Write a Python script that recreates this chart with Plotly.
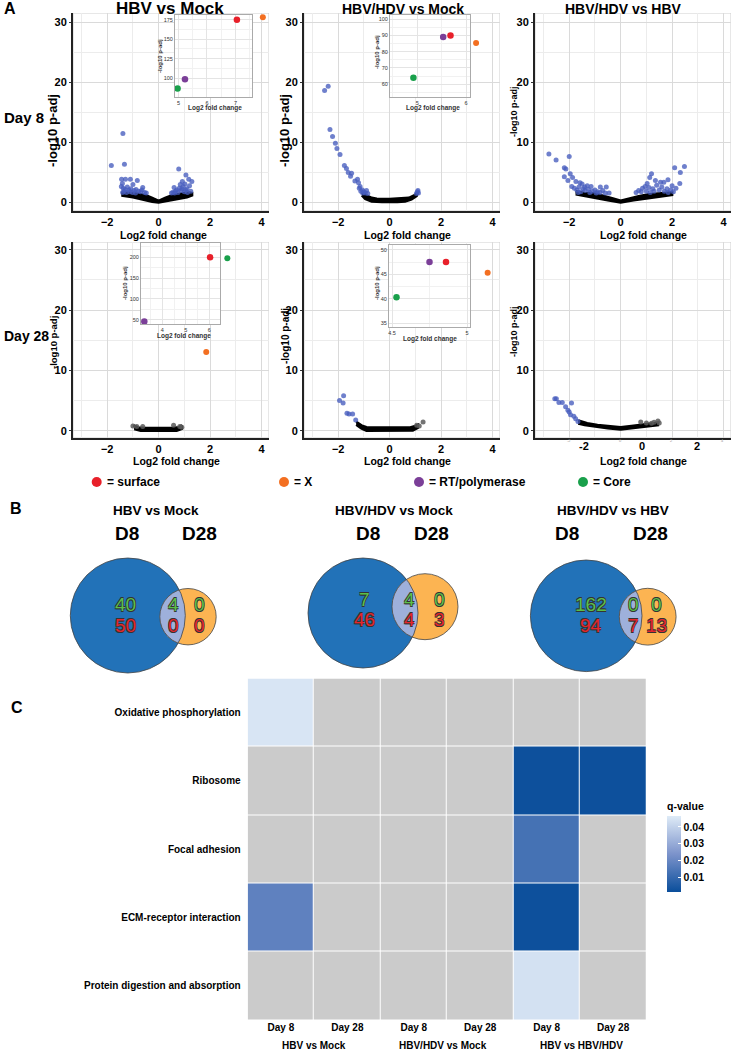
import numpy as np
import plotly.graph_objects as go

W, H = 732, 1050


def px(x):
    return x / W


def py(y):
    return 1 - y / H


# ---------------- Panel A: volcano plots ----------------
col_titles = ["HBV vs Mock", "HBV/HDV vs Mock", "HBV/HDV vs HBV"]
row_titles = ["Day 8", "Day 28"]
gene_names = ["surface", "X", "RT/polymerase", "Core"]
gene_colors = {"surface": "#e8202a", "X": "#f36f21", "RT/polymerase": "#7b3f98", "Core": "#19a04b"}

# Day 8, HBV vs Mock
d8_mock_blue_x = [-1.84, -1.39, -1.33, -1.44, -1.29, -1.1, -0.83, -1.41, -1.0, -0.62, -1.45, -1.38, -1.3,
                  -1.22, -1.15, -1.08, -0.95, -0.88, -0.78, -0.7, -0.55, -1.35, -1.25, -1.12, -1.02, -0.9,
                  -0.65, -1.4, -0.48,
                  0.78, 1.06, 1.17, 1.29, 0.92, 0.84, 0.6, 0.7, 0.95, 1.02, 1.1, 1.2, 0.88, 0.8, 0.65, 0.55,
                  1.0, 1.12, 0.75, 1.05, 0.9, 1.25, 0.5, 0.62]
d8_mock_blue_y = [6.1, 11.4, 6.3, 3.8, 3.8, 3.8, 3.6, 3.1, 2.9, 2.4, 2.6, 2.3, 2.1,
                  2.5, 2.0, 2.2, 1.9, 2.1, 1.8, 1.7, 1.6, 1.8, 1.6, 1.7, 1.6, 1.5,
                  2.0, 1.6, 1.5,
                  5.5, 4.5, 3.8, 3.4, 3.4, 2.9, 2.4, 2.0, 2.6, 3.0, 2.2, 2.7, 1.9, 2.3, 1.8, 1.6,
                  1.7, 1.6, 1.6, 2.0, 2.2, 1.8, 1.5, 1.5]
d8_mock_core_x = [-1.45, -1.2, -1.0, -0.75, -0.5, -0.25, 0.0, 0.25, 0.5, 0.75, 1.0, 1.2, 1.3,
                  1.3, 1.1, 0.8, 0.5, 0.25, 0.0, -0.25, -0.5, -1.0, -1.45]
d8_mock_core_y = [1.6, 1.6, 1.5, 1.35, 1.15, 0.7, 0.2, 0.7, 1.1, 1.35, 1.5, 1.6, 1.5,
                  1.1, 0.8, 0.55, 0.3, 0.05, -0.1, 0.05, 0.3, 0.8, 1.1]
d8_mock_gray_x, d8_mock_gray_y = [], []
d8_mock_gene = ["X"]
d8_mock_gene_x = [4.05]
d8_mock_gene_y = [30.8]
d8_mock_inset_gene = ["surface", "RT/polymerase", "Core"]
d8_mock_inset_x = [7.05, 5.23, 4.97]
d8_mock_inset_y = [175, 98.7, 87]

# Day 8, HBV/HDV vs Mock
d8_hdv_blue_x = [-2.53, -2.39, -2.32, -2.22, -2.11, -2.05, -1.93, -1.76, -1.68, -1.61, -1.48, -1.52, -1.35,
                 -1.25, -1.21, -1.18, -1.06, -1.12, -1.0, -0.95, -0.9, -1.15, -1.05, -0.85,
                 1.04, 1.08, 1.1, 1.12]
d8_hdv_blue_y = [18.6, 19.3, 12.1, 10.9, 9.8, 8.9, 7.9, 6.1, 5.6, 4.9, 4.8, 4.3, 3.5,
                 3.8, 3.2, 2.3, 2.0, 1.8, 1.7, 1.5, 1.9, 2.6, 1.5, 1.4,
                 1.4, 1.7, 1.9, 1.5]
d8_hdv_core_x = [-1.08, -0.9, -0.7, -0.5, 0.0, 0.5, 0.75, 0.95, 1.08,
                 1.05, 0.85, 0.6, 0.3, -0.3, -0.7, -0.95, -1.08]
d8_hdv_core_y = [1.6, 1.1, 0.7, 0.55, 0.5, 0.55, 0.7, 1.1, 1.5,
                 1.0, 0.45, 0.1, 0.0, 0.0, 0.1, 0.5, 1.1]
d8_hdv_gray_x, d8_hdv_gray_y = [], []
d8_hdv_gene = ["X"]
d8_hdv_gene_x = [3.36]
d8_hdv_gene_y = [26.5]
d8_hdv_inset_gene = ["Core", "RT/polymerase", "surface"]
d8_hdv_inset_x = [4.92, 5.53, 5.68]
d8_hdv_inset_y = [64, 89, 90]

# Day 8, HBV/HDV vs HBV
d8_hbv_blue_x = [-2.79, -2.51, -2.0, -2.19, -2.13, -1.96, -2.19, -2.05, -1.87, -1.74, -1.58, -1.5, -1.3,
                 -1.15, -0.79, -0.56, -1.9, -1.8, -1.7, -1.62, -1.45, -1.38, -1.25, -1.1, -1.0, -0.9,
                 -0.8, -0.7, -0.6, -1.55, -1.2, -0.95, -1.65, -0.45, -1.4,
                 2.1, 2.32, 2.48, 1.84, 1.2, 1.13, 1.03, 1.35, 1.55, 1.68, 2.0, 0.95, 0.85, 0.7, 1.1,
                 1.25, 1.4, 1.6, 1.8, 1.95, 2.15, 1.5, 0.8, 1.0, 1.3, 1.7, 2.05, 0.6, 1.15, 1.85, 2.3]
d8_hbv_blue_y = [8.0, 7.0, 7.6, 5.7, 5.5, 4.7, 4.2, 3.6, 4.1, 3.4, 3.2, 3.0, 2.7,
                 2.6, 2.5, 2.5, 2.6, 2.3, 2.0, 2.5, 2.2, 1.9, 2.1, 1.8, 2.0, 1.7,
                 1.6, 1.9, 1.5, 1.7, 1.6, 1.5, 1.6, 1.5, 2.5,
                 5.7, 4.9, 5.9, 3.7, 4.7, 4.1, 3.1, 3.6, 3.3, 3.3, 2.7, 2.6, 2.3, 1.9, 2.4,
                 2.2, 2.8, 2.5, 2.2, 2.0, 2.3, 2.0, 1.7, 1.8, 1.8, 1.8, 1.7, 1.6, 1.6, 1.6, 3.1]
d8_hbv_core_x = [-1.75, -1.4, -1.0, -0.6, -0.3, 0.0, 0.3, 0.7, 1.1, 1.5, 2.0,
                 2.0, 1.5, 1.0, 0.5, 0.0, -0.5, -1.0, -1.4, -1.75]
d8_hbv_core_y = [1.8, 1.5, 1.4, 1.0, 0.6, 0.2, 0.55, 0.95, 1.3, 1.45, 1.6,
                 1.2, 0.95, 0.6, 0.3, -0.1, 0.3, 0.65, 0.95, 1.3]
d8_hbv_gray_x, d8_hbv_gray_y = [], []
d8_hbv_gene, d8_hbv_gene_x, d8_hbv_gene_y = [], [], []

# Day 28, HBV vs Mock
d28_mock_blue_x, d28_mock_blue_y = [], []
d28_mock_core_x = [-0.98, -0.8, -0.5, 0.0, 0.5, 0.8, 0.9, 0.9, 0.7, -0.7, -0.95]
d28_mock_core_y = [0.9, 0.55, 0.45, 0.45, 0.45, 0.6, 0.9, 0.3, 0.0, 0.0, 0.3]
d28_mock_gray_x = [-1.0, -0.85, -0.62, 0.58, 0.82, 0.9]
d28_mock_gray_y = [0.8, 0.7, 0.7, 0.9, 0.7, 0.6]
d28_mock_gene = ["X", "Core"]
d28_mock_gene_x = [1.85, 2.67]
d28_mock_gene_y = [13.05, 28.6]
d28_mock_inset_gene = ["RT/polymerase", "surface"]
d28_mock_inset_x = [3.24, 6.03]
d28_mock_inset_y = [46, 200]

# Day 28, HBV/HDV vs Mock
d28_hdv_blue_x = [-1.95, -1.79, -1.81, -1.66, -1.58, -1.44, -1.32]
d28_hdv_blue_y = [5.0, 5.8, 4.6, 2.9, 2.8, 2.8, 1.8]
d28_hdv_core_x = [-1.3, -1.1, -0.9, 0.0, 0.8, 1.0, 1.1, 1.1, 0.9, -0.9, -1.1, -1.3]
d28_hdv_core_y = [1.5, 0.9, 0.6, 0.55, 0.55, 0.8, 1.0, 0.5, 0.05, 0.0, 0.4, 1.0]
d28_hdv_gray_x = [1.3, 1.15, 1.05]
d28_hdv_gray_y = [1.45, 0.8, 0.9]
d28_hdv_gene = ["X"]
d28_hdv_gene_x = [3.81]
d28_hdv_gene_y = [26.2]
d28_hdv_inset_gene = ["Core", "RT/polymerase", "surface"]
d28_hdv_inset_x = [4.53, 4.75, 4.86]
d28_hdv_inset_y = [40.3, 47.5, 47.5]

# Day 28, HBV/HDV vs HBV
d28_hbv_blue_x = [-2.56, -2.5, -2.4, -2.27, -2.14, -2.05, -1.91, -1.95, -1.82, -1.75, -1.66, -2.0]
d28_hbv_blue_y = [5.3, 5.3, 4.7, 4.7, 4.0, 3.4, 4.6, 2.65, 2.4, 2.0, 1.55, 3.1]
d28_hbv_core_x = [-1.65, -1.3, -0.9, -0.4, 0.0, 0.5, 1.0, 1.45,
                  1.45, 1.0, 0.5, 0.0, -0.5, -1.0, -1.4, -1.65]
d28_hbv_core_y = [1.7, 1.25, 0.95, 0.75, 0.6, 0.85, 1.15, 1.35,
                  0.95, 0.75, 0.45, 0.2, 0.4, 0.65, 0.95, 1.2]
d28_hbv_gray_x = [0.78, 1.0, 1.2, 1.3, 1.45, 1.5]
d28_hbv_gray_y = [1.45, 1.3, 1.25, 1.4, 1.6, 1.3]
d28_hbv_gene, d28_hbv_gene_x, d28_hbv_gene_y = [], [], []

# ---------------- Panel B: Venn counts (green = up, red = down) ----------------
venn_titles = ["HBV vs Mock", "HBV/HDV vs Mock", "HBV/HDV vs HBV"]
venn_sets = ["D8", "D28"]
venn_up = [[40, 4, 0], [7, 4, 0], [162, 0, 0]]        # D8 only, both, D28 only
venn_down = [[50, 0, 0], [46, 4, 3], [94, 7, 13]]

# ---------------- Panel C: KEGG heatmap ----------------
pathways = ["Oxidative phosphorylation", "Ribosome", "Focal adhesion",
            "ECM-receptor interaction", "Protein digestion and absorption"]
conditions = ["Day 8", "Day 28", "Day 8", "Day 28", "Day 8", "Day 28"]
comparisons = ["HBV vs Mock", "HBV/HDV vs Mock", "HBV vs HBV/HDV"]
qvalues = [
    [0.045, None, None, None, None, None],
    [None, None, None, None, 0.0018, 0.0018],
    [None, None, None, None, 0.013, None],
    [0.018, None, None, None, 0.0018, None],
    [None, None, None, None, 0.044, None],
]

# ---------------- figure ----------------
FONT = "Liberation Sans, Arial, sans-serif"
NARROW = "Liberation Sans Narrow, Arial Narrow, Liberation Sans, sans-serif"

fig = go.Figure()
layout = {}
annotations = []
shapes = []


def note(text, x, y, size, xanchor="center", angle=0, color="black", bold=True, family=FONT, **kw):
    font = dict(family=family, size=size, color=color)
    if bold:
        font["weight"] = "bold"
    font.update(kw)
    annotations.append(dict(text=text, x=px(x), y=py(y), xref="paper", yref="paper", xanchor=xanchor,
                            yanchor="middle", textangle=angle, showarrow=False, font=font))


col_px = [(73, 269), (304, 500), (535, 731)]
row_px = [(13, 211), (242, 438)]
row_ranges = [[-1.5, 31.5], [-1.2, 31.3]]
xrange_main = [-3.33, 4.29]

panels = [
    (d8_mock_blue_x, d8_mock_blue_y, d8_mock_core_x, d8_mock_core_y, d8_mock_gray_x, d8_mock_gray_y,
     d8_mock_gene, d8_mock_gene_x, d8_mock_gene_y),
    (d8_hdv_blue_x, d8_hdv_blue_y, d8_hdv_core_x, d8_hdv_core_y, d8_hdv_gray_x, d8_hdv_gray_y,
     d8_hdv_gene, d8_hdv_gene_x, d8_hdv_gene_y),
    (d8_hbv_blue_x, d8_hbv_blue_y, d8_hbv_core_x, d8_hbv_core_y, d8_hbv_gray_x, d8_hbv_gray_y,
     d8_hbv_gene, d8_hbv_gene_x, d8_hbv_gene_y),
    (d28_mock_blue_x, d28_mock_blue_y, d28_mock_core_x, d28_mock_core_y, d28_mock_gray_x, d28_mock_gray_y,
     d28_mock_gene, d28_mock_gene_x, d28_mock_gene_y),
    (d28_hdv_blue_x, d28_hdv_blue_y, d28_hdv_core_x, d28_hdv_core_y, d28_hdv_gray_x, d28_hdv_gray_y,
     d28_hdv_gene, d28_hdv_gene_x, d28_hdv_gene_y),
    (d28_hbv_blue_x, d28_hbv_blue_y, d28_hbv_core_x, d28_hbv_core_y, d28_hbv_gray_x, d28_hbv_gray_y,
     d28_hbv_gene, d28_hbv_gene_x, d28_hbv_gene_y),
]

# y-title (x px, y px, size) and x-title (x px, y px) per panel
ytitle_pos = [(53, 131, 13), (285, 131, 13), (514, 112, 9), (53, 343, 9.5), (285, 336, 10), (514, 332, 9)]
xtitle_pos = [(163, 235), (407, 235), (643, 235), (176, 461), (407, 461), (643, 461)]

for i, (bx, by, cx, cy, gx, gy, gn, gnx, gny) in enumerate(panels):
    n = i + 1
    r, c = divmod(i, 3)
    xa, ya = "x%d" % n, "y%d" % n
    xk = "xaxis" if n == 1 else "xaxis%d" % n
    yk = "yaxis" if n == 1 else "yaxis%d" % n
    x0, x1 = col_px[c]
    y0, y1 = row_px[r]
    layout[xk] = dict(domain=[px(x0), px(x1)], range=xrange_main, anchor=ya, tick0=0, dtick=2,
                      showgrid=True, gridcolor="#dadada", gridwidth=1,
                      minor=dict(dtick=1, showgrid=True, gridcolor="#ececec"),
                      showline=True, linecolor="#222", linewidth=2, zeroline=False,
                      ticks="",
                      tickfont=dict(family=FONT, size=11, color="black", weight="bold"),
                      showticklabels=(n != 6))
    layout[yk] = dict(domain=[py(y1), py(y0)], range=row_ranges[r], anchor=xa, tick0=0, dtick=10,
                      showgrid=True, gridcolor="#dadada", gridwidth=1,
                      minor=dict(dtick=5, showgrid=True, gridcolor="#ececec"),
                      showline=True, linecolor="#222", linewidth=2, zeroline=False,
                      ticks="outside", ticklen=2, tickcolor="#333",
                      tickfont=dict(family=FONT, size=11, color="black", weight="bold"))
    # light panel border
    shapes.append(dict(type="rect", xref=xa, yref=ya, x0=xrange_main[0], x1=xrange_main[1],
                       y0=row_ranges[r][0], y1=row_ranges[r][1], line=dict(color="#cfcfcf", width=1),
                       layer="below"))
    fig.add_trace(go.Scatter(x=cx, y=cy, mode="lines", fill="toself", fillcolor="black",
                             line=dict(color="black", width=2.5), xaxis=xa, yaxis=ya, hoverinfo="skip"))
    if gx:
        fig.add_trace(go.Scatter(x=gx, y=gy, mode="markers", xaxis=xa, yaxis=ya,
                                 marker=dict(size=5, color="rgba(90,90,90,0.85)")))
    if bx:
        fig.add_trace(go.Scatter(x=bx, y=by, mode="markers", xaxis=xa, yaxis=ya,
                                 marker=dict(size=5, color="rgba(70,92,190,0.78)")))
    if gn:
        fig.add_trace(go.Scatter(x=gnx, y=gny, mode="markers", xaxis=xa, yaxis=ya, cliponaxis=False,
                                 marker=dict(size=6, color=[gene_colors[g] for g in gn])))
    tx, ty, ts = ytitle_pos[i]
    note("-log10 p-adj", tx, ty, ts, angle=-90)
    tx, ty = xtitle_pos[i]
    note("Log2 fold change", tx, ty, 10.5)

# shifted tick labels of the last panel (as in the source image)
for lab, xp in zip(["-2", "0", "2"], [584, 642, 697]):
    note(lab, xp, 446, 11)
for lab, xp in zip(["-2", "0", "2", "4"], [569, 620, 671, 722]):
    note(lab, xp, 441, 4, color="#999", bold=False)

# insets
insets = [
    (7, (175, 252), (15, 97), [4.88, 7.58], [76, 181], 1, 25,
     d8_mock_inset_gene, d8_mock_inset_x, d8_mock_inset_y, (215, 108.5), (160, 56)),
    (8, (390, 470), (15, 97), [4.44, 6.08], [52.2, 102.5], 1, 10,
     d8_hdv_inset_gene, d8_hdv_inset_x, d8_hdv_inset_y, (433, 108.5), (377, 52)),
    (9, (141, 220), (243, 324), [3.1, 6.45], [40, 234], 1, 50,
     d28_mock_inset_gene, d28_mock_inset_x, d28_mock_inset_y, (184, 335.5), (125, 283)),
    (10, (389, 470), (245, 327), [4.48, 5.02], [34.2, 51.0], 0.5, 5,
     d28_hdv_inset_gene, d28_hdv_inset_x, d28_hdv_inset_y, (430, 338.5), (377, 283)),
]
for n, (x0, x1), (y0, y1), xr, yr, dx, dy, gn, gx, gy, xt, yt in insets:
    xa, ya = "x%d" % n, "y%d" % n
    layout["xaxis%d" % n] = dict(domain=[px(x0), px(x1)], range=xr, anchor=ya, tick0=0, dtick=dx,
                                 showgrid=True, gridcolor="#e4e4e4",
                                 minor=dict(dtick=dx / 2, showgrid=True, gridcolor="#f1f1f1"),
                                 showline=True, mirror=True, linecolor="#aaa", linewidth=1, zeroline=False,
                                 ticks="", tickfont=dict(family=FONT, size=5.5, color="#333"))
    layout["yaxis%d" % n] = dict(domain=[py(y1), py(y0)], range=yr, anchor=xa, tick0=0, dtick=dy,
                                 showgrid=True, gridcolor="#e4e4e4",
                                 minor=dict(dtick=dy / 2, showgrid=True, gridcolor="#f1f1f1"),
                                 showline=True, mirror=True, linecolor="#aaa", linewidth=1, zeroline=False,
                                 ticks="", tickfont=dict(family=FONT, size=5.5, color="#333"))
    shapes.append(dict(type="rect", xref=xa, yref=ya, x0=xr[0], x1=xr[1], y0=yr[0], y1=yr[1],
                       fillcolor="white", line=dict(width=0), layer="below"))
    fig.add_trace(go.Scatter(x=gx, y=gy, mode="markers", xaxis=xa, yaxis=ya, cliponaxis=False,
                             marker=dict(size=6.5, color=[gene_colors[g] for g in gn])))
    note("Log2 fold change", xt[0], xt[1], 6.5, color="#333")
    note("-log10 p-adj", yt[0], yt[1], 6, angle=-90, color="#333")

# column / row titles for panel A
for t, xp, fs in zip(col_titles, [170, 403, 623], [17, 14, 14]):
    note(t, xp, 9, fs)
for t, yp, fs in zip(row_titles, [117, 336], [15, 14]):
    note(t, 2, yp, fs, xanchor="left")

# gene legend
for g, xd in zip(gene_names, [96.7, 284, 419, 583]):
    shapes.append(dict(type="circle", xref="paper", yref="paper", x0=px(xd - 5), x1=px(xd + 5),
                       y0=py(487), y1=py(477), fillcolor=gene_colors[g], line=dict(width=0)))
    note("= " + g, xd + 8, 482, 12, xanchor="left")

# panel letters
for lab, xp, yp in [("A", 2, 9), ("B", 8, 508), ("C", 9, 707)]:
    note(lab, xp, yp, 16, xanchor="left")

# ---------------- Venn diagrams ----------------
venn_big = [(127.8, 615.5, 57.5), (363.0, 613.0, 55.0), (586.2, 615.8, 55.8)]
venn_small = [(188.0, 616.7, 28.2), (425.0, 606.7, 33.0), (647.7, 616.7, 28.4)]
venn_title_x = [155.6, 394.0, 613.0]
venn_label_x = [(127, 199.5), (367.8, 431.0), (567.0, 650.5)]
venn_num_x = [(125, 173, 199.5), (364.5, 409.3, 439.3), (591, 633, 656.5)]
venn_num_y = [(604, 625), (599, 619), (604, 625)]


def lens_path(c1, c2, npts=40):
    (ax, ay, r1), (bx, by, r2) = c1, c2
    d = np.hypot(bx - ax, by - ay)
    a = (r1 ** 2 - r2 ** 2 + d ** 2) / (2 * d)
    th = np.arctan2(by - ay, bx - ax)
    al = np.arccos(a / r1)
    be = np.arccos((d - a) / r2)
    t1 = np.linspace(th - al, th + al, npts)
    t2 = np.linspace(th + np.pi - be, th + np.pi + be, npts)
    xs = np.concatenate([ax + r1 * np.cos(t1), bx + r2 * np.cos(t2)])
    ys = np.concatenate([ay + r1 * np.sin(t1), by + r2 * np.sin(t2)])
    return "M " + " L ".join("%.5f,%.5f" % (px(u), py(v)) for u, v in zip(xs, ys)) + " Z"


def circ(c, **kw):
    x, y, r = c
    return dict(type="circle", xref="paper", yref="paper", x0=px(x - r), x1=px(x + r),
                y0=py(y + r), y1=py(y - r), **kw)


outline = "-0.6px -0.6px 0 #333, 0.6px -0.6px 0 #333, -0.6px 0.6px 0 #333, 0.6px 0.6px 0 #333"
for k in range(3):
    shapes.append(circ(venn_big[k], fillcolor="#2272b8", line=dict(width=0)))
    shapes.append(circ(venn_small[k], fillcolor="#fcb452", line=dict(width=0)))
    shapes.append(dict(type="path", xref="paper", yref="paper", path=lens_path(venn_big[k], venn_small[k]),
                       fillcolor="#9eb0db", line=dict(width=0)))
    shapes.append(circ(venn_big[k], line=dict(color="#444", width=0.8)))
    shapes.append(circ(venn_small[k], line=dict(color="#444", width=0.8)))
    note(venn_titles[k], venn_title_x[k], 510, 13.5, family=NARROW)
    for s, xs in zip(venn_sets, venn_label_x[k]):
        note(s, xs, 533, 19)
    for j in range(3):
        note(str(venn_up[k][j]), venn_num_x[k][j], venn_num_y[k][0], 19, color="#5bbf4a", bold=False,
             shadow=outline)
        note(str(venn_down[k][j]), venn_num_x[k][j], venn_num_y[k][1], 19, color="#e5262c", bold=False,
             shadow=outline)

# ---------------- heatmap ----------------
na_mask = [[1 if v is None else None for v in row] for row in qvalues]
fig.add_trace(go.Heatmap(z=na_mask, x=list(range(6)), y=list(range(5)), xaxis="x11", yaxis="y11",
                         colorscale=[[0, "#cbcbcb"], [1, "#cbcbcb"]], showscale=False, xgap=1, ygap=1,
                         hoverinfo="skip"))
fig.add_trace(go.Heatmap(z=qvalues, x=list(range(6)), y=list(range(5)), xaxis="x11", yaxis="y11",
                         colorscale=[[0, "#0a4e9b"], [0.5, "#7c93cb"], [1, "#deebf7"]],
                         zmin=0.0012, zmax=0.0465, xgap=1, ygap=1,
                         colorbar=dict(x=px(667), xanchor="left", y=py(799), yanchor="top",
                                       len=93 / H, lenmode="fraction", thickness=14, outlinewidth=0,
                                       tickvals=[0.01, 0.02, 0.03, 0.04], ticks="inside", tickcolor="white",
                                       ticklen=3, xpad=0, ypad=0,
                                       tickfont=dict(family=NARROW, size=10.5, color="black", weight="bold"),
                                       title=dict(text="q-value", side="top",
                                                  font=dict(family=NARROW, size=10.5, color="black",
                                                            weight="bold")))))
layout["xaxis11"] = dict(domain=[px(247.7), px(646.3)], range=[-0.5, 5.5], anchor="y11",
                         tickvals=list(range(6)), ticktext=conditions, showgrid=False, zeroline=False,
                         ticks="", tickfont=dict(family=NARROW, size=10, color="black", weight="bold"))
layout["yaxis11"] = dict(domain=[py(1020), py(678.5)], range=[4.5, -0.5], anchor="x11",
                         tickvals=list(range(5)), ticktext=pathways, showgrid=False, zeroline=False,
                         ticks="", ticklabelstandoff=6,
                         tickfont=dict(family=NARROW, size=10, color="black", weight="bold"))
for t, xp in zip(comparisons, [314, 443, 581]):
    note(t, xp, 1045, 10, family=NARROW)

fig.update_layout(width=W, height=H, margin=dict(l=0, r=0, t=0, b=0), showlegend=False,
                  paper_bgcolor="white", plot_bgcolor="white", font=dict(family=FONT),
                  annotations=annotations, shapes=shapes, **layout)

fig.write_html("out.html", config={"displayModeBar": False},
               post_script="document.body.style.margin='0px';")
